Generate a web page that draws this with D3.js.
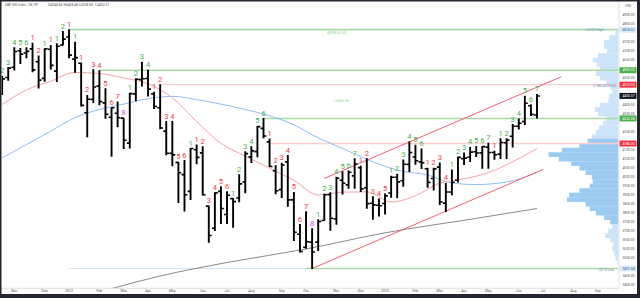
<!DOCTYPE html>
<html><head><meta charset="utf-8">
<script src="https://cdn.jsdelivr.net/npm/d3@7"></script>
<style>html,body{margin:0;padding:0;background:#fff;overflow:hidden}svg{display:block}</style>
</head><body>
<svg id="chart" width="640" height="298"></svg>
<script>
// ---------------- DATA ----------------
const weekDates = ["2021-10-18","2021-10-25","2021-11-01","2021-11-08","2021-11-15","2021-11-22","2021-11-29","2021-12-06","2021-12-13","2021-12-20","2021-12-27",
"2022-01-03","2022-01-10","2022-01-17","2022-01-24","2022-01-31","2022-02-07","2022-02-14","2022-02-21","2022-02-28","2022-03-07","2022-03-14","2022-03-21","2022-03-28","2022-04-04","2022-04-11","2022-04-18","2022-04-25","2022-05-02","2022-05-09","2022-05-16","2022-05-23","2022-05-30","2022-06-06","2022-06-13","2022-06-20","2022-06-27","2022-07-04","2022-07-11","2022-07-18","2022-07-25","2022-08-01","2022-08-08","2022-08-15","2022-08-22","2022-08-29","2022-09-05","2022-09-12","2022-09-19","2022-09-26","2022-10-03","2022-10-10","2022-10-17","2022-10-24","2022-10-31","2022-11-07","2022-11-14","2022-11-21","2022-11-28","2022-12-05","2022-12-12","2022-12-19","2022-12-26",
"2023-01-02","2023-01-09","2023-01-16","2023-01-23","2023-01-30","2023-02-06","2023-02-13","2023-02-20","2023-02-27","2023-03-06","2023-03-13","2023-03-20","2023-03-27","2023-04-03","2023-04-10","2023-04-17","2023-04-24","2023-05-01","2023-05-08","2023-05-15","2023-05-22","2023-05-29","2023-06-05","2023-06-12","2023-06-19","2023-06-26"];
const opens  = [4463,4553,4610,4701,4689,4712,4640,4548,4710,4588,4733,
4778,4655,4632,4357,4431,4505,4412,4332,4354,4327,4188,4462,4541,4547,4462,4385,4255,4131,4081,4013,3920,4151,4134,3838,3715,3920,3792,3880,3883,3972,4112,4141,4270,4195,4035,3930,4084,3873,3682,3610,3638,3638,3758,3902,3767,3982,3956,4006,4052,3940,3854,3843,
3853,3911,3999,3979,4070,4111,4084,4046,3992,4055,3855,3917,3982,4102,4110,4140,4134,4166,4136,4127,4190,4226,4282,4308,4396,4344.84];
const highs  = [4559,4608,4718,4714,4718,4743,4672,4713,4731,4740,4808,
4818.62,4749,4632,4453,4596,4590,4490,4385,4416,4327,4465,4546,4637,4593,4471,4513,4308,4308,4081,4091,4158,4178,4168,3838,3913,3946,3918,3880,4013,4140,4168,4281,4325,4211,4062,4076,4119,3914,3736,3807,3712,3762,3906,3912,3999,4029,4034,4101,4060,4101,3890,3878,
3906,4004,4015,4094,4195,4176,4156,4049,4048,4078,3964,4039,4110,4133,4164,4170,4170,4187,4143,4212,4212,4291,4322,4448,4401,4458.48];
const lows   = [4459,4537,4595,4630,4662,4585,4495,4532,4600,4531,4733,
4662,4582,4395,4223,4414,4401,4327,4115,4279,4158,4161,4424,4506,4450,4381,4268,4124,4062,3859,3811,3875,4074,3900,3637,3703,3741,3742,3721,3863,3913,4080,4112,4218,4058,3907,3886,3837,3647,3584,3604,3491.58,3591,3758,3704,3737,3906,3938,3937,3919,3827,3765,3783,
3795,3887,3885,3949,4030,4071,4047,3943,3928,3847,3808,3901,3972,4069,4086,4114,4049,4048,4099,4103,4103,4166,4266,4292,4341,4328.08];
const closes = [4545,4605,4697,4682,4698,4595,4538,4712,4620,4726,4766,
4677,4663,4398,4432,4500,4419,4349,4385,4329,4204,4463,4543,4546,4488,4392,4272,4132,4123,4024,3901,4158,4109,3901,3675,3912,3825,3899,3863,3962,4130,4145,4280,4228,4058,3924,4067,3873,3693,3586,3640,3583,3753,3901,3771,3993,3965,4026,4072,3934,3852,3845,3840,
3895,3999,3973,4071,4136,4090,4079,3970,4045,3861,3917,3971,4109,4105,4138,4133,4169,4136,4124,4192,4205,4282,4299,4410,4348,4450.37];
// TD counts shown above each bar (number + colour key g/r/m)
const countNums = ["2","3","4","5","6","1","2","1","1","1","2",
"1","1","1","2","3","4","5","6","7","8","1","2","3","4","1","2","3","4","5","6","1","1","2","3","4","5","6","1","2","3","4","5","6","1","2","3","4","5","6","7","8","1","2","3","4","5","6","7","1","2","3","4",
"5","1","2","3","4","5","6","1","2","3","4","1","2","3","4","5","6","7","1","1","2","3","4","5","6","7"];
const countKinds = ["g","g","g","g","g","r","r","g","r","g","g",
"r","g","r","r","r","r","r","r","r","m","g","g","g","g","r","r","r","r","r","r","g","r","r","r","r","r","r","g","g","g","g","g","g","r","r","r","r","r","r","r","m","g","g","g","g","g","g","g","r","r","r","r",
"r","g","g","g","g","g","g","r","r","r","r","g","g","g","g","g","g","g","r","g","g","g","g","g","g","g"];

// moving averages
const ma20Dates = ["2021-10-18","2021-11-15","2021-12-13","2022-01-10","2022-02-07","2022-03-07","2022-04-04","2022-05-02","2022-05-30","2022-06-27","2022-07-25","2022-08-22","2022-09-19","2022-10-17","2022-11-14","2022-12-12","2023-01-09","2023-02-06","2023-03-06","2023-04-03","2023-05-01","2023-05-29","2023-06-26"];
const ma20Values = [4403,4484,4532,4581,4575,4550,4518,4440,4308,4187,4116,4049,3981,3900,3916,3917,3861,3896,3966,3990,4024,4085,4158];
const ma50Dates = ["2021-10-18","2021-11-15","2021-12-13","2022-01-10","2022-02-07","2022-03-07","2022-04-04","2022-05-02","2022-05-30","2022-06-27","2022-07-25","2022-08-22","2022-09-19","2022-10-17","2022-11-14","2022-12-19","2023-01-23","2023-02-20","2023-03-20","2023-04-17","2023-05-22","2023-06-26"];
const ma50Values = [4106,4180,4255,4330,4375,4405,4435,4448,4430,4405,4375,4340,4290,4217,4159,4084,4031,4011,3966,3958,3972,4025];
const ma200Dates = ["2022-02-21","2022-04-18","2022-07-04","2022-10-03","2023-01-02","2023-04-17","2023-06-26"];
const ma200Values = [3380,3450,3525,3600,3690,3770,3825];

// rising channel
const channelLowerDates = ["2022-10-10","2023-07-03"];
const channelLowerPrices = [3491.58,4042];
const channelUpperDates = ["2022-10-24","2023-07-24"];
const channelUpperPrices = [3992,4557];

// horizontal levels
const levelPrices = [4818.62,4593.00,4513.00,4325.38,4186.00,3491.58];
const levelStarts = ["2022-01-03","2022-02-07","2022-04-18","2022-08-15","2022-08-22","2022-10-03"];
const levelKinds  = ["g","g","r","g","r","g"];

// price axis
const priceTicks = [4900,4850,4750,4700,4650,4550,4400,4350,4250,4150,4100,4050,4000,3950,3900,3850,3800,3750,3700,3650,3600,3550,3450,3400];
const badgePrices = [4818.62,4593.00,4513.00,4450.37,4325.38,4186.00,3491.58];
const badgeKinds  = ["b","g","r","k","g","r","b"];

// time axis
const timeTickDates = ["2021-11-01","2021-12-06","2022-01-03","2022-02-07","2022-03-07","2022-04-04","2022-05-02","2022-06-06","2022-07-04","2022-08-01","2022-09-05","2022-10-03","2022-11-07","2022-12-05","2023-01-02","2023-02-06","2023-03-06","2023-04-03","2023-05-01","2023-06-05","2023-07-03","2023-08-07","2023-09-04"];
const timeTickLabels = ["Nov","Dec","2022","Feb","Mar","Apr","May","Jun","Jul","Aug","Sep","Oct","Nov","Dec","2023","Feb","Mar","Apr","May","Jun","Jul","Aug","Sep"];

// volume profile (price bin centre, relative volume)
const vpPrices = [4800,4775,4750,4725,4700,4675,4650,4625,4600,4575,4550,4525,4500,4475,4450,4425,4400,4375,4350,4325,4300,4275,4250,4225,4200,4175,4150,4125,4100,4075,4050,4025,4000,3975,3950,3925,3900,3875,3850,3825,3800,3775,3750,3725,3700,3675,3650,3625,3600,3575,3550,3525];
const vpVolumes = [3,9,14,14,11,20,25,21,18,22,18,12,8,6,9,10,18,23,20,12,15,19,22,26,30,38,55,68,58,46,38,32,26,25,28,38,48,50,32,28,22,14,8,6,10,13,8,5,6,4,3,1];

const header = ["S&P 500 Index, 1W, SP","O4344.84","H4458.48","L4328.08","C4450.37"];

// ---------------- DRAW ----------------
const parseD = d3.utcParse("%Y-%m-%d");
const svg = d3.select("#chart");
const PL = 1.5, PR = 618.5, PT = 1.5, PB = 288;
const x = d3.scaleUtc().domain([parseD("2022-01-03"), parseD("2023-06-26")]).range([69, 537]);
const y = d3.scaleLinear().domain([3400, 4900]).range([285, 15]);
const FONT = "Roboto, 'Liberation Sans', Arial, sans-serif";

svg.append("rect").attr("width",640).attr("height",298).attr("fill","#ffffff");
svg.append("clipPath").attr("id","plotclip").append("rect")
  .attr("x",PL).attr("y",PT).attr("width",PR-PL).attr("height",PB-PT);
const g = svg.append("g").attr("clip-path","url(#plotclip)");

// volume profile
const vpScale = d3.scaleLinear().domain([0, d3.max(vpVolumes)]).range([0, 70]);
const binH = Math.abs(y(0) - y(25));
g.append("g").selectAll("rect").data(vpPrices).join("rect")
  .attr("x",(p,i)=>PR - vpScale(vpVolumes[i]))
  .attr("y",p=>y(p)-binH/2)
  .attr("width",(p,i)=>vpScale(vpVolumes[i]))
  .attr("height",binH+0.2)
  .attr("fill",p=> (p>=3750 && p<=4200) ? "#9ccbf2" : "#cde4f8");

// faint fib base line
g.append("line").attr("x1",x(parseD("2022-01-03"))).attr("x2",x(parseD("2022-10-03")))
  .attr("y1",y(3491.58)).attr("y2",y(3491.58)).attr("stroke","#d6e8f7").attr("stroke-width",1);

// horizontal levels
levelPrices.forEach((p,i)=>{
  g.append("line").attr("x1",x(parseD(levelStarts[i]))).attr("x2",PR)
    .attr("y1",y(p)).attr("y2",y(p))
    .attr("stroke", levelKinds[i]==="g" ? "#a9d9a6" : "#f9cfcf")
    .attr("stroke-width", levelKinds[i]==="g" ? 1.6 : 1.3);
});

// moving averages
function maLine(dates, vals, color, w){
  const pts = dates.map((d,i)=>[x(parseD(d)), y(vals[i])]);
  g.append("path").attr("d", d3.line().curve(d3.curveMonotoneX)(pts))
    .attr("fill","none").attr("stroke",color).attr("stroke-width",w);
}
maLine(ma200Dates, ma200Values, "#8a8a8a", 1);
maLine(ma50Dates, ma50Values, "#8fbdf0", 1);
maLine(ma20Dates, ma20Values, "#f4a3a8", 1);

// channel
function chLine(dates, prices){
  g.append("line").attr("x1",x(parseD(dates[0]))).attr("y1",y(prices[0]))
    .attr("x2",x(parseD(dates[1]))).attr("y2",y(prices[1]))
    .attr("stroke","#f2606f").attr("stroke-width",1);
}
chLine(channelLowerDates, channelLowerPrices);
chLine(channelUpperDates, channelUpperPrices);

// OHLC bars
const bars = g.append("g");
weekDates.forEach((d,i)=>{
  const xc = x(parseD(d));
  bars.append("line").attr("x1",xc).attr("x2",xc).attr("y1",y(highs[i])-0.5).attr("y2",y(lows[i])+0.5)
    .attr("stroke","#000").attr("stroke-width",1.9);
  bars.append("line").attr("x1",xc-2.9).attr("x2",xc).attr("y1",y(opens[i])).attr("y2",y(opens[i]))
    .attr("stroke","#000").attr("stroke-width",1.6);
  bars.append("line").attr("x1",xc).attr("x2",xc+2.9).attr("y1",y(closes[i])).attr("y2",y(closes[i]))
    .attr("stroke","#000").attr("stroke-width",1.6);
});

// counts
const countColor = {g:"#43b047", r:"#f23645", m:"#e040fb"};
g.append("g").selectAll("text").data(weekDates).join("text")
  .attr("x",d=>x(parseD(d))).attr("y",(d,i)=>y(highs[i])-3)
  .attr("text-anchor","middle").attr("font-family",FONT).attr("font-size",7.5)
  .attr("fill",(d,i)=>countColor[countKinds[i]]).text((d,i)=>countNums[i]);

// small drawing labels
g.append("text").attr("x",327).attr("y",33.5).attr("font-family",FONT).attr("font-size",3.6).attr("fill","#7bd07b").text("4,818.62 (5)");
g.append("text").attr("x",334).attr("y",102).attr("font-family",FONT).attr("font-size",3.6).attr("fill","#8ee08e").text("t.4465.86");
g.append("text").attr("x",585).attr("y",31.3).attr("font-family",FONT).attr("font-size",3.4).attr("fill","#6c8fb8").text("1/3/22 High");
g.append("text").attr("x",593).attr("y",86.5).attr("font-family",FONT).attr("font-size",3.4).attr("fill","#6c8fb8").text("0.786(4508.50)");
g.append("text").attr("x",598).attr("y",271.2).attr("font-family",FONT).attr("font-size",3.4).attr("fill","#6c8fb8").text("10/13 Low");

// header
const hx = [5,48,63.5,79,95];
header.forEach((t,i)=>svg.append("text").attr("x",hx[i]).attr("y",6.3).attr("font-family",FONT)
  .attr("font-size",3.3).attr("fill","#555").text(t));

// price axis
svg.append("line").attr("x1",PR+0.5).attr("x2",PR+0.5).attr("y1",PT).attr("y2",PB).attr("stroke","#d8d8d8").attr("stroke-width",0.8);
svg.append("text").attr("x",625).attr("y",6.5).attr("font-family",FONT).attr("font-size",3.3).attr("fill","#555").text("USD");
svg.append("g").selectAll("text").data(priceTicks).join("text")
  .attr("x",622.5).attr("y",p=>y(p)+1.2).attr("font-family",FONT).attr("font-size",3.3)
  .attr("fill","#555").text(p=>d3.format(".2f")(p));
const badgeFill = {g:"#4caf50", r:"#f23645", k:"#131722", b:"#dbe9f6"};
const badgeText = {g:"#fff", r:"#fff", k:"#fff", b:"#2a5d8f"};
badgePrices.forEach((p,i)=>{
  svg.append("rect").attr("x",619.5).attr("y",y(p)-3).attr("width",17).attr("height",6)
    .attr("fill",badgeFill[badgeKinds[i]]);
  svg.append("text").attr("x",622.5).attr("y",y(p)+1.2).attr("font-family",FONT).attr("font-size",3.3)
    .attr("fill",badgeText[badgeKinds[i]]).text(d3.format(".2f")(p));
});

// time axis
svg.append("line").attr("x1",PL).attr("x2",PR).attr("y1",PB+0.3).attr("y2",PB+0.3).attr("stroke","#d8d8d8").attr("stroke-width",0.8);
svg.append("g").selectAll("text").data(timeTickDates).join("text")
  .attr("x",d=>x(parseD(d))).attr("y",292.3).attr("text-anchor","middle")
  .attr("font-family",FONT).attr("font-size",3.6).attr("fill","#555")
  .text((d,i)=>timeTickLabels[i]);

// frame
const frame = "#23262f";
svg.append("rect").attr("x",0).attr("y",0).attr("width",640).attr("height",1.5).attr("fill",frame);
svg.append("rect").attr("x",0).attr("y",294).attr("width",640).attr("height",4).attr("fill",frame);
svg.append("rect").attr("x",0).attr("y",0).attr("width",1.5).attr("height",298).attr("fill",frame);
svg.append("rect").attr("x",637).attr("y",0).attr("width",3).attr("height",298).attr("fill",frame);
</script>
</body></html>
